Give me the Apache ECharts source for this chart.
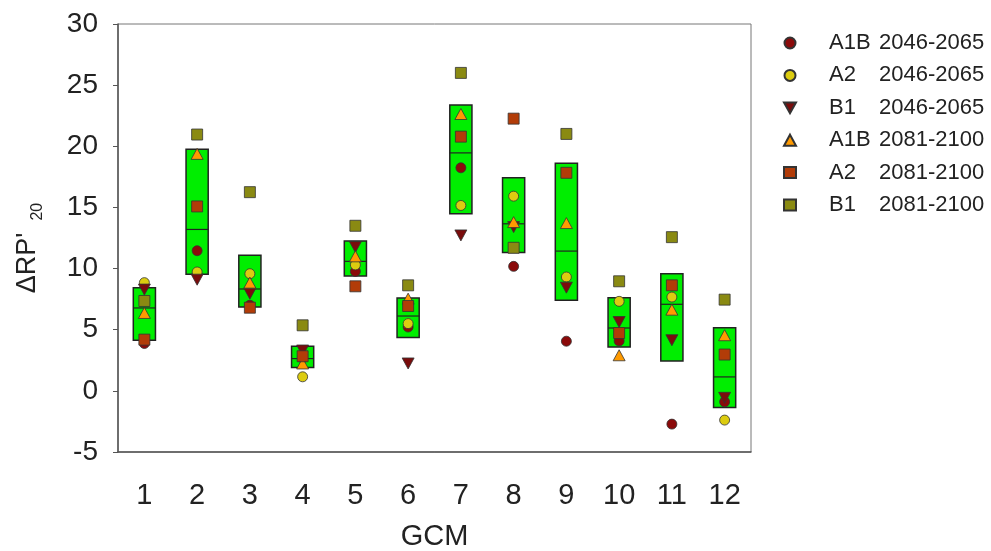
<!DOCTYPE html>
<html>
<head>
<meta charset="utf-8">
<script src="https://cdn.jsdelivr.net/npm/echarts@6/dist/echarts.min.js"></script>
<style>
  html, body { margin: 0; padding: 0; background: #fff; }
  #chart { width: 991px; height: 551px; }
</style>
</head>
<body>
<div id="chart"></div>
<script>
// GCM index on x axis
const gcm = ['1', '2', '3', '4', '5', '6', '7', '8', '9', '10', '11', '12'];

// scenario values
const a1b2046 = [3.87, 11.46, 7.0, 2.7, 9.77, 5.22, 18.24, 10.18, 4.06, 4.08, -2.72, -0.9];
const a22046 = [8.85, 9.72, 9.58, 1.15, 10.3, 5.5, 15.16, 15.92, 9.31, 7.32, 7.67, -2.39];
const b12046 = [8.28, 9.09, 7.95, 3.3, 11.76, 2.24, 12.71, 13.39, 8.44, 5.63, 4.14, -0.57];
const a1b2081 = [6.37, 19.38, 8.85, 2.24, 11.0, 7.54, 22.64, 13.8, 13.72, 2.91, 6.64, 4.55];
const a22081 = [4.19, 15.08, 6.8, 2.83, 8.55, 6.94, 20.79, 22.26, 17.83, 4.73, 8.63, 2.97];
const b12081 = [7.35, 20.96, 16.25, 5.36, 13.5, 8.63, 26.0, 11.7, 21.01, 8.96, 12.57, 7.46];

// green boxes: lower edge, upper edge, middle line
const boxLow = [4.14, 9.53, 6.86, 1.91, 9.39, 4.36, 14.48, 11.32, 7.4, 3.59, 2.45, -1.36];
const boxHigh = [8.44, 19.76, 11.08, 3.65, 12.25, 7.6, 23.38, 17.42, 18.61, 7.62, 9.58, 5.17];
const boxMid = [6.78, 13.2, 8.33, 2.64, 10.59, 6.12, 19.46, 13.66, 11.43, 5.14, 7.08, 1.14];

const yTicks = [-5, 0, 5, 10, 15, 20, 25, 30];

const font = 'Liberation Sans, Arial, sans-serif';
const triDown = 'path://M0,0 L10,0 L5,9 Z';

const boxData = gcm.map((g, i) => [i, boxLow[i], boxHigh[i], boxMid[i]]);

function renderBox(params, api) {
    let x = api.value(0);
    let lo = api.coord([x, api.value(1)]);
    let hi = api.coord([x, api.value(2)]);
    let md = api.coord([x, api.value(3)]);
    let w = api.size([1, 0])[0] * 0.42;
    return {
        type: 'group',
        children: [{
            type: 'rect',
            shape: { x: lo[0] - w / 2, y: hi[1], width: w, height: lo[1] - hi[1] },
            style: { fill: '#00ee00', stroke: '#222', lineWidth: 1.5 }
        }, {
            type: 'line',
            shape: { x1: lo[0] - w / 2, y1: md[1], x2: lo[0] + w / 2, y2: md[1] },
            style: { stroke: '#222', lineWidth: 1.2 }
        }]
    };
}

function scatter(name, data, symbol, size, color) {
    return {
        name: name,
        type: 'scatter',
        data: data,
        symbol: symbol,
        symbolSize: size,
        z: 3,
        itemStyle: { color: color, borderColor: '#333', borderWidth: 0.8, opacity: 1 }
    };
}

const option = {
    animation: false,
    backgroundColor: '#fff',
    grid: {
        left: 118, right: 240, top: 24, bottom: 99,
        outerBoundsMode: 'none',
        containLabel: false,
        show: true, borderColor: '#777', borderWidth: 1
    },
    legend: {
        orient: 'vertical',
        left: 778,
        top: 27,
        itemWidth: 12,
        itemHeight: 11,
        itemGap: 10.4,
        formatter: function (name) {
            let parts = name.split(' ');
            return '{a|' + parts[0] + '}{b|' + parts[1] + '}';
        },
        textStyle: {
            color: '#222',
            fontFamily: font,
            fontSize: 22,
            lineHeight: 22,
            rich: {
                a: { width: 50, fontSize: 22, fontFamily: font, color: '#222', padding: [0, 0, 0, 28] },
                b: { fontSize: 22, fontFamily: font, color: '#222' }
            }
        },
        data: ['A1B 2046-2065', 'A2 2046-2065', 'B1 2046-2065', 'A1B 2081-2100', 'A2 2081-2100', 'B1 2081-2100']
    },
    xAxis: {
        type: 'category',
        data: gcm,
        name: 'GCM',
        nameLocation: 'middle',
        nameGap: 70,
        nameTextStyle: { fontSize: 29, fontFamily: font, color: '#222' },
        axisLine: { onZero: false, lineStyle: { color: '#555', width: 1.5 } },
        axisTick: { alignWithLabel: true, length: 5, lineStyle: { color: '#555' } },
        axisLabel: { fontSize: 29, fontFamily: font, color: '#222', margin: 29 },
        splitLine: { show: false }
    },
    yAxis: {
        type: 'value',
        min: yTicks[0],
        max: yTicks[yTicks.length - 1],
        interval: 5,
        name: "{a|ΔRP'}{b|20}",
        nameLocation: 'middle',
        nameGap: 72,
        nameRotate: 90,
        nameTextStyle: {
            color: '#222',
            padding: [0, 20, 0, 0],
            rich: {
                a: { fontSize: 27, fontFamily: font, color: '#222', lineHeight: 32, verticalAlign: 'top' },
                b: { fontSize: 16, fontFamily: font, color: '#222', lineHeight: 16, verticalAlign: 'bottom', padding: [0, 0, 0, 12] }
            }
        },
        axisLine: { show: true, onZero: false, lineStyle: { color: '#555', width: 1.5 } },
        axisTick: { show: true, length: 5, lineStyle: { color: '#555' } },
        axisLabel: { fontSize: 28, fontFamily: font, color: '#222', margin: 20 },
        splitLine: { show: false }
    },
    series: [
        {
            type: 'custom',
            renderItem: renderBox,
            data: boxData,
            z: 1,
            encode: { x: 0, y: [1, 2, 3] },
            silent: true
        },
        scatter('A1B 2046-2065', a1b2046, 'circle', 10, '#8b0a0a'),
        scatter('A2 2046-2065', a22046, 'circle', 10, '#dccc10'),
        scatter('B1 2046-2065', b12046, triDown, [12, 11], '#7a0c0c'),
        scatter('A1B 2081-2100', a1b2081, 'triangle', [12, 11], '#ff9a00'),
        scatter('A2 2081-2100', a22081, 'rect', 11, '#b23c08'),
        scatter('B1 2081-2100', b12081, 'rect', 11, '#8a8a12')
    ]
};

let myChart = echarts.init(document.getElementById('chart'));
myChart.setOption(option);
</script>
</body>
</html>
